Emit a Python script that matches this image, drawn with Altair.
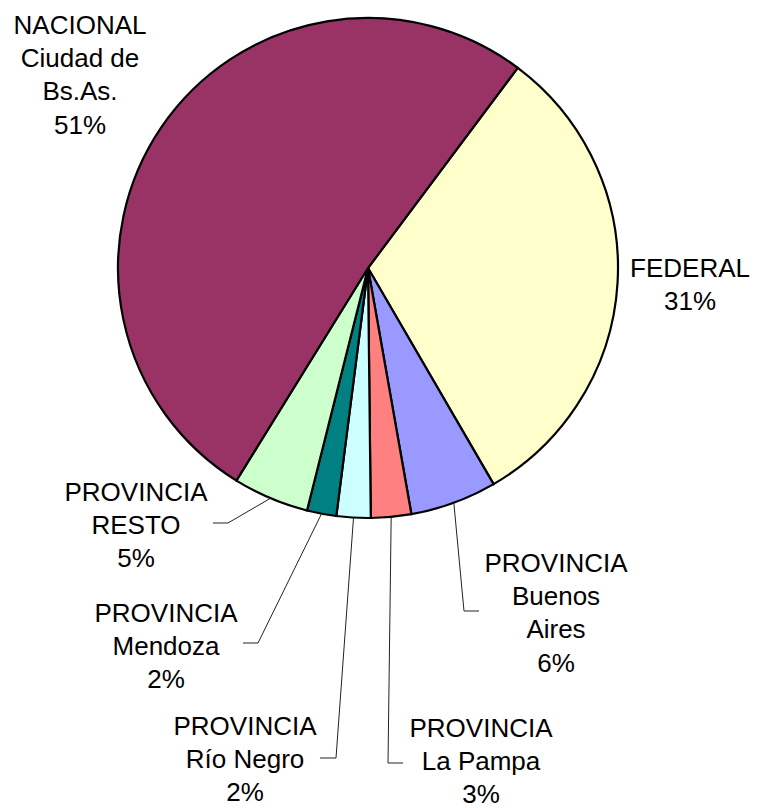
import math
import altair as alt
import pandas as pd

# ---- data ----
categories = ["FEDERAL", "PROVINCIA Buenos Aires", "PROVINCIA La Pampa",
              "PROVINCIA Río Negro", "PROVINCIA Mendoza", "PROVINCIA RESTO",
              "NACIONAL Ciudad de Bs.As."]
values = [31.4, 5.6, 2.6, 2.2, 1.9, 4.9, 51.4]
label_lines = [
    ["FEDERAL"],
    ["PROVINCIA", "Buenos", "Aires"],
    ["PROVINCIA", "La Pampa"],
    ["PROVINCIA", "Río Negro"],
    ["PROVINCIA", "Mendoza"],
    ["PROVINCIA", "RESTO"],
    ["NACIONAL", "Ciudad de", "Bs.As."],
]
colors = ["#FFFFCC", "#9999FF", "#FF8080", "#CCFFFF", "#008080", "#CCFFCC", "#993366"]

# ---- layout (page pixels) ----
MARGIN = 8
CX, CY, R = 368, 268, 250
START_DEG = 36.8
label_pos = [(690, 268), (556, 563), (481, 728), (245, 726), (166, 613), (136, 492), (80, 25)]
LH = 33.2
# leader elbows / ends (None = no leader)
leaders = [None, [(464, 611), (479, 611)], [(388, 763), (403, 763)],
           [(336, 758), (320, 758)], [(258, 643), (243, 643)],
           [(228, 523), (213, 523)], None]

total = sum(values)
pie_df = pd.DataFrame({"cat": categories, "val": values, "idx": range(len(values))})

start = math.radians(START_DEG)
arcs = alt.Chart(pie_df).mark_arc(outerRadius=R, stroke="black", strokeWidth=2.2).encode(
    theta=alt.Theta("val:Q", stack=True, scale=alt.Scale(range=[start, start + 2 * math.pi])),
    order=alt.Order("idx:Q", sort="ascending"),
    color=alt.Color("cat:N", scale=alt.Scale(domain=categories, range=colors), legend=None),
    x=alt.value(CX - MARGIN),
    y=alt.value(CY - MARGIN),
)

# text rows
trows = []
cum = 0.0
lrows = []
for i, (cat, v) in enumerate(zip(categories, values)):
    lines = label_lines[i] + [f"{round(v / total * 100)}%"]
    lx, ly = label_pos[i]
    for j, t in enumerate(lines):
        trows.append({"cat": cat, "t": t, "x": lx - MARGIN, "y": ly + j * LH - MARGIN + 1})
    mid = (cum + v / 2) / total
    cum += v
    if leaders[i]:
        a = start + 2 * math.pi * mid
        pts = [(CX + R * math.sin(a), CY - R * math.cos(a))] + leaders[i]
        for k, (px, py) in enumerate(pts):
            lrows.append({"cat": cat, "k": k, "x": px - MARGIN, "y": py - MARGIN})

text_df = pd.DataFrame(trows)
line_df = pd.DataFrame(lrows)

lines = alt.Chart(line_df).mark_line(color="#222222", strokeWidth=1).encode(
    x=alt.X("x:Q", scale=None, axis=None),
    y=alt.Y("y:Q", scale=None, axis=None),
    detail="cat:N",
    order="k:Q",
)

texts = alt.Chart(text_df).mark_text(
    font="Liberation Sans", fontSize=26, align="center", baseline="middle", color="black"
).encode(
    x=alt.X("x:Q", scale=None, axis=None),
    y=alt.Y("y:Q", scale=None, axis=None),
    text="t:N",
)

chart = alt.layer(arcs, lines, texts).properties(
    width=745, height=800, padding=0, autosize=alt.AutoSizeParams(type="none")
).configure_view(stroke=None)

chart.save("out.html", embed_options={"renderer": "svg", "actions": False})
